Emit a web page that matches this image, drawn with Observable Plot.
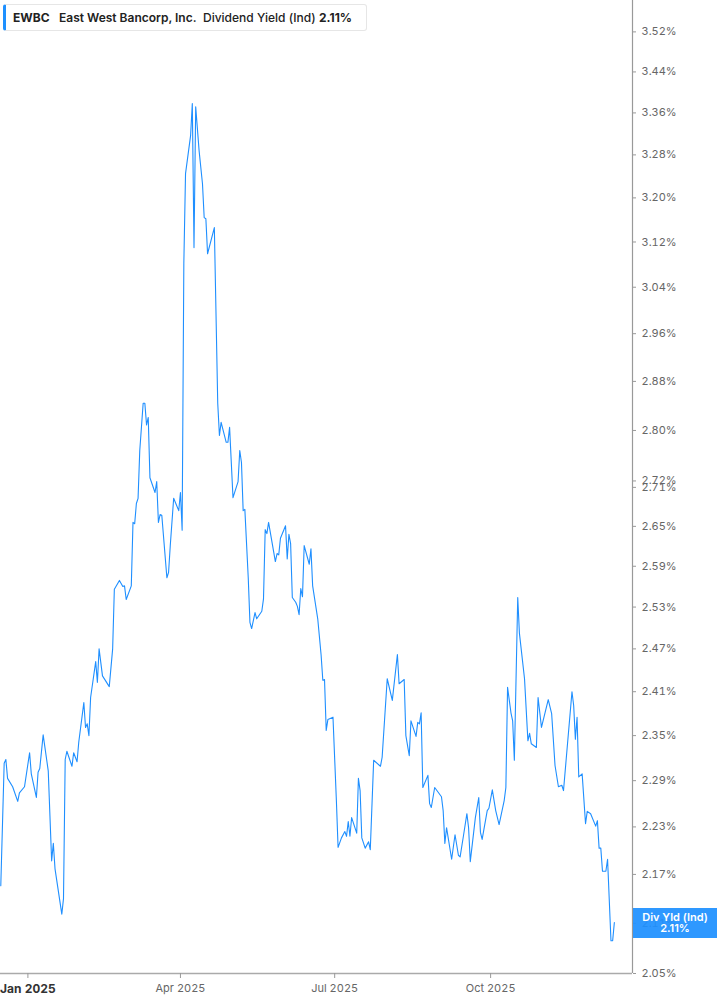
<!DOCTYPE html>
<html>
<head>
<meta charset="utf-8">
<script src="https://cdn.jsdelivr.net/npm/d3@7"></script>
<script src="https://cdn.jsdelivr.net/npm/@observablehq/plot@0.6"></script>
<style>
  body { margin: 0; background: #fff; font-family: Inter, "Noto Sans", sans-serif; }
  #wrap { position: relative; width: 717px; height: 1005px; overflow: hidden; background: #fff; }
  #hdr { position: absolute; left: 3px; top: 4px; width: 364px; height: 27px; box-sizing: border-box;
         border: 1px solid #e6e6e6; border-left: 3px solid #1e90ff; border-radius: 3px; background: #fff;
         font-size: 12px; color: #222; white-space: nowrap; }
  #hdr span { position: absolute; top: 5px; }
  #endlbl { position: absolute; left: 633px; width: 84px; height: 30px; background: rgba(30,144,255,0.93);
            color: #fff; font: 600 11px Inter, sans-serif; text-align: center; display: flex; flex-direction: column;
            justify-content: center; line-height: 10.5px; }
  svg [aria-label="y-axis tick label"] { fill: #666; }
  svg [aria-label="x-axis tick label"] { fill: #666; }
  svg [aria-label="y-axis tick"], svg [aria-label="x-axis tick"] { stroke: #999; }
</style>
</head>
<body>
<div id="wrap">
  <div id="chart"></div>
  <div id="hdr">
    <span style="left:7px;font-weight:700">EWBC</span>
    <span style="left:53px;font-weight:600">East West Bancorp, Inc.</span>
    <span style="left:197px;font-weight:500">Dividend Yield (Ind)</span>
    <span style="left:313px;font-weight:700">2.11%</span>
  </div>
  <div id="endlbl"><div>Div Yld (Ind)</div><div>2.11%</div></div>
</div>
<script>
// ---- data ----
const dates = [
"2024-12-16","2024-12-18","2024-12-19","2024-12-20","2024-12-23","2024-12-26","2024-12-27","2024-12-30",
"2025-01-02","2025-01-03","2025-01-06","2025-01-07","2025-01-08","2025-01-10","2025-01-13","2025-01-15","2025-01-16","2025-01-17","2025-01-21","2025-01-22","2025-01-23","2025-01-24","2025-01-27","2025-01-28","2025-01-30","2025-01-31",
"2025-02-03","2025-02-04","2025-02-05","2025-02-06","2025-02-07","2025-02-10","2025-02-11","2025-02-12","2025-02-14","2025-02-18","2025-02-20","2025-02-21","2025-02-24","2025-02-26","2025-02-27","2025-02-28",
"2025-03-03","2025-03-04","2025-03-05","2025-03-06","2025-03-07","2025-03-08","2025-03-10","2025-03-11","2025-03-12","2025-03-13","2025-03-14","2025-03-17","2025-03-18","2025-03-19","2025-03-20","2025-03-21","2025-03-24","2025-03-25","2025-03-26","2025-03-28","2025-03-31",
"2025-04-01","2025-04-02","2025-04-03","2025-04-04","2025-04-07","2025-04-08","2025-04-09","2025-04-10","2025-04-12","2025-04-14","2025-04-15","2025-04-16","2025-04-17","2025-04-21","2025-04-23","2025-04-24","2025-04-25","2025-04-28","2025-04-29","2025-04-30",
"2025-05-02","2025-05-05","2025-05-06","2025-05-07","2025-05-08","2025-05-09","2025-05-11","2025-05-12","2025-05-13","2025-05-15","2025-05-16","2025-05-19","2025-05-20","2025-05-21","2025-05-22","2025-05-23","2025-05-27","2025-05-28","2025-05-29","2025-05-30",
"2025-06-02","2025-06-03","2025-06-04","2025-06-05","2025-06-06","2025-06-08","2025-06-09","2025-06-10","2025-06-11","2025-06-12","2025-06-13","2025-06-16","2025-06-17","2025-06-18","2025-06-21","2025-06-23","2025-06-24","2025-06-25","2025-06-26","2025-06-27","2025-06-30",
"2025-07-02","2025-07-03","2025-07-05","2025-07-07","2025-07-08","2025-07-09","2025-07-10","2025-07-11","2025-07-14","2025-07-15","2025-07-16","2025-07-17","2025-07-19","2025-07-21","2025-07-22","2025-07-24","2025-07-28","2025-07-29",
"2025-08-01","2025-08-04","2025-08-07","2025-08-08","2025-08-11","2025-08-12","2025-08-14","2025-08-15","2025-08-18","2025-08-19","2025-08-20","2025-08-21","2025-08-22","2025-08-25","2025-08-26","2025-08-27","2025-08-29",
"2025-09-02","2025-09-03","2025-09-04","2025-09-05","2025-09-08","2025-09-10","2025-09-12","2025-09-13","2025-09-15","2025-09-17","2025-09-18","2025-09-19","2025-09-22","2025-09-24","2025-09-25","2025-09-26","2025-09-29","2025-09-30",
"2025-10-02","2025-10-04","2025-10-06","2025-10-09","2025-10-10","2025-10-11","2025-10-13","2025-10-14","2025-10-15","2025-10-17","2025-10-18","2025-10-21","2025-10-23","2025-10-24","2025-10-25","2025-10-28","2025-10-29","2025-10-31",
"2025-11-04","2025-11-06","2025-11-08","2025-11-10","2025-11-12","2025-11-13","2025-11-18","2025-11-19","2025-11-20","2025-11-21","2025-11-22","2025-11-24","2025-11-26","2025-11-27","2025-11-29",
"2025-12-02","2025-12-03","2025-12-04","2025-12-05","2025-12-06","2025-12-08","2025-12-09","2025-12-11","2025-12-12","2025-12-13"
];
const yields = [
2.156,2.313,2.318,2.293,2.282,2.263,2.274,2.282,
2.327,2.299,2.268,2.301,2.306,2.351,2.303,2.187,2.209,2.177,2.121,2.140,2.318,2.329,2.309,2.327,2.315,2.341,
2.395,2.361,2.366,2.350,2.402,2.452,2.423,2.470,2.432,2.417,2.470,2.556,2.569,2.560,2.561,2.541,
2.561,2.656,2.654,2.685,2.693,2.768,2.844,2.844,2.809,2.821,2.725,2.702,2.719,2.656,2.668,2.667,2.573,2.581,2.621,2.693,2.674,
2.702,2.644,3.082,3.245,3.317,3.378,3.110,3.372,3.288,3.226,3.164,3.162,3.099,3.146,2.844,2.792,2.813,2.781,2.781,2.805,
2.694,2.719,2.768,2.749,2.674,2.676,2.573,2.508,2.499,2.522,2.513,2.524,2.542,2.645,2.639,2.656,2.597,2.609,2.607,2.632,
2.651,2.601,2.638,2.624,2.544,2.537,2.531,2.519,2.557,2.545,2.621,2.593,2.616,2.561,2.513,2.461,2.426,2.427,2.357,2.372,2.375,
2.264,2.204,2.216,2.224,2.218,2.237,2.218,2.242,2.222,2.293,2.277,2.216,2.203,2.211,2.201,2.317,2.309,2.321,
2.428,2.398,2.462,2.421,2.427,2.350,2.323,2.370,2.349,2.368,2.366,2.381,2.281,2.297,2.260,2.255,2.281,
2.269,2.251,2.209,2.229,2.189,2.220,2.194,2.192,2.219,2.247,2.229,2.186,2.242,2.268,2.223,2.214,2.251,2.254,
2.278,2.251,2.233,2.264,2.281,2.416,2.381,2.370,2.317,2.544,2.492,2.428,2.343,2.353,2.339,2.334,2.402,2.361,
2.399,2.380,2.310,2.282,2.284,2.277,2.410,2.391,2.345,2.375,2.295,2.299,2.234,2.250,2.247,
2.231,2.238,2.203,2.203,2.174,2.174,2.189,2.089,2.089,2.111
];
const yTicks = [3.52,3.44,3.36,3.28,3.20,3.12,3.04,2.96,2.88,2.80,2.72,2.71,2.65,2.59,2.53,2.47,2.41,2.35,2.29,2.23,2.17,2.11,2.05];
const xTicks = ["2025-01-01","2025-04-01","2025-07-01","2025-10-01"];
const currentYield = 2.11;

// ---- build ----
const data = dates.map((d, i) => ({date: new Date(d), value: yields[i]}));
const xDomain = [new Date("2024-12-15T20:00:00Z"), new Date("2025-12-23T17:00:00Z")];
const yDomain = [2.05, 3.584];
const fmtMonth = d3.utcFormat("%b %Y");

const chart = Plot.plot({
  width: 717,
  height: 1005,
  marginTop: 0,
  marginBottom: 32,
  marginLeft: 0,
  marginRight: 85,
  style: {fontFamily: "Inter, 'Noto Sans', sans-serif", fontSize: "11px", color: "#666", background: "transparent", overflow: "visible"},
  x: {type: "utc", domain: xDomain, label: null},
  y: {type: "log", domain: yDomain, label: null},
  marks: [
    Plot.ruleY([yDomain[0]], {stroke: "#aaa", strokeWidth: 1.5}),
    Plot.ruleX([xDomain[1]], {stroke: "#999", strokeWidth: 1.2}),
    Plot.line(data, {x: "date", y: "value", stroke: "#1f8fff", strokeWidth: 1.1}),
    Plot.axisY(yTicks, {anchor: "right", label: null, tickSize: 3, tickPadding: 6, tickFormat: d => d.toFixed(2) + "%", fontSize: 11}),
    Plot.axisX(xTicks.map(d => new Date(d)), {anchor: "bottom", label: null, tickSize: 5, tickPadding: 6, tickFormat: fmtMonth, fontSize: 11})
  ]
});
document.getElementById("chart").appendChild(chart);

// Make the year-start label bold, as in the reference
chart.querySelectorAll('[aria-label="x-axis tick label"] text').forEach(t => {
  if (t.textContent.startsWith("Jan")) {
    t.setAttribute("font-weight", "700");
    t.setAttribute("font-size", "12");
    t.style.fill = "#333";
  }
});

// End label positioned on the y scale
const yPos = chart.scale("y").apply(currentYield);
document.getElementById("endlbl").style.top = (yPos - 15) + "px";
</script>
</body>
</html>
